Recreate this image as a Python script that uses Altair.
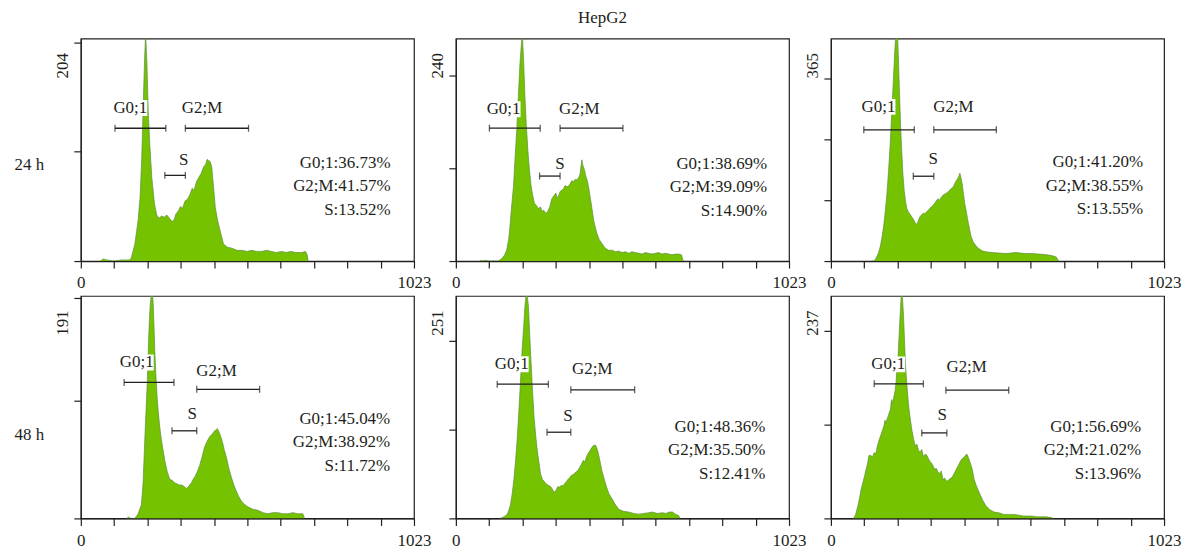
import altair as alt
import pandas as pd

FONT = "Liberation Serif"
INK = "#231f20"
GREEN = "#74c200"
EDGE = "#5f8f3f"

# ---------------- histogram data (channel, count) ----------------
p1_x = [60, 69, 80, 100, 125, 150, 155, 166, 176, 182, 187, 192, 196, 199, 203, 207, 212, 218, 226, 233,
        240, 248, 256, 264, 272, 280, 286, 292, 300, 306, 312, 320, 328, 335, 342, 348, 355, 362, 370, 377,
        383, 388, 392, 397, 402, 408, 413, 420, 428, 438, 450, 464, 480, 495, 510, 525, 540, 556, 570, 585,
        600, 617, 630, 645, 660, 679, 690, 695, 698]
p1_y = [0, 2, 1, 0, 1, 1, 3, 16, 38, 60, 95, 150, 190, 212, 185, 140, 108, 78, 54, 43,
        40, 42, 41, 43, 40, 37, 38, 44, 47, 51, 49, 56, 58, 62, 68, 66, 74, 78, 82, 88,
        90, 95, 94, 93, 88, 68, 50, 38, 28, 16, 13, 12, 10, 10, 9, 10, 9, 9, 10, 9,
        8, 9, 8, 9, 8, 8, 9, 6, 0]

p2_x = [74, 80, 92, 100, 130, 141, 150, 156, 162, 166, 171, 177, 182, 187, 192, 197, 201, 204, 208, 212,
        216, 221, 226, 231, 236, 241, 247, 254, 260, 265, 269, 274, 279, 284, 289, 294, 300, 307, 311, 315,
        320, 326, 331, 336, 341, 346, 351, 356, 361, 367, 372, 377, 381, 385, 387, 390, 395, 399, 403, 408,
        412, 418, 423, 428, 433, 440, 448, 458, 469, 480, 490, 500, 510, 520, 531, 541, 551, 562, 572, 582,
        592, 602, 612, 623, 633, 643, 654, 664, 674, 685, 693, 698]
p2_y = [1, 0, 1, 0, 0, 3, 8, 14, 28, 44, 70, 97, 135, 170, 215, 257, 280, 295, 260, 214,
        178, 144, 118, 97, 85, 75, 72, 68, 70, 64, 66, 63, 62, 66, 71, 80, 84, 88, 82, 84,
        90, 92, 94, 98, 96, 97, 100, 104, 103, 106, 105, 108, 112, 125, 131, 124, 118, 110, 105, 95,
        84, 68, 53, 44, 36, 28, 23, 17, 14, 14, 12, 13, 11, 12, 10, 12, 11, 10, 9, 11,
        10, 9, 10, 11, 9, 10, 9, 8, 9, 9, 8, 0]

p3_x = [125, 132, 137, 142, 147, 152, 157, 162, 167, 172, 177, 182, 187, 192, 196, 200, 205, 208, 211, 214,
        218, 221, 225, 229, 233, 238, 243, 248, 253, 258, 263, 268, 273, 278, 283, 288, 294, 299, 304, 309,
        314, 319, 324, 329, 334, 339, 344, 349, 354, 359, 364, 369, 375, 380, 385, 390, 394, 396, 399, 403,
        407, 411, 416, 420, 425, 430, 437, 446, 456, 466, 481, 496, 516, 537, 552, 567, 582, 598, 618, 638,
        658, 678, 692, 699]
p3_y = [0, 0, 4, 10, 18, 30, 48, 70, 100, 135, 180, 234, 300, 365, 420, 460, 450, 390, 332, 270,
        214, 175, 142, 120, 106, 98, 94, 89, 84, 78, 73, 80, 89, 92, 96, 95, 99, 102, 106, 109,
        112, 116, 121, 125, 122, 128, 132, 134, 136, 138, 142, 145, 148, 155, 161, 166, 172, 176, 168, 155,
        135, 115, 98, 83, 66, 50, 38, 30, 24, 20, 18, 17, 16, 15, 16, 17, 16, 15, 15, 14,
        13, 11, 8, 0]

p4_x = [140, 146, 155, 166, 176, 186, 191, 196, 200, 204, 207, 210, 213, 217, 220, 222, 225, 227, 231, 235,
        240, 245, 251, 258, 265, 273, 280, 288, 295, 302, 309, 316, 324, 329, 334, 340, 345, 350, 357, 365,
        372, 380, 388, 396, 403, 411, 416, 419, 423, 427, 431, 436, 441, 447, 454, 462, 470, 477, 485, 493,
        503, 513, 528, 544, 559, 574, 590, 605, 620, 636, 651, 666, 682, 687]
p4_y = [0, 1, 0, 0, 4, 12, 30, 65, 92, 117, 145, 169, 185, 196, 194, 188, 165, 146, 122, 102,
        86, 73, 62, 50, 41, 34, 33, 31, 30, 29, 29, 28, 26, 27, 29, 31, 34, 36, 40, 46,
        53, 62, 67, 71, 73, 76, 77, 78, 76, 73, 70, 65, 59, 53, 44, 36, 29, 24, 19, 15,
        12, 10, 8, 7, 5, 4, 5, 5, 4, 4, 5, 4, 4, 0]

p5_x = [135, 142, 150, 158, 163, 168, 173, 178, 183, 188, 193, 198, 203, 208, 212, 216, 220, 223, 226, 230,
        235, 240, 245, 250, 255, 260, 266, 272, 277, 283, 288, 293, 298, 303, 308, 313, 318, 324, 329, 334,
        339, 344, 350, 355, 360, 365, 370, 375, 380, 386, 391, 396, 401, 406, 412, 417, 422, 427, 430, 434,
        438, 443, 448, 453, 458, 463, 470, 479, 489, 500, 515, 531, 546, 562, 577, 593, 603, 619, 634, 645,
        655, 665, 675, 684, 688]
p5_y = [0, 1, 3, 6, 12, 20, 35, 54, 80, 110, 148, 190, 235, 270, 300, 318, 312, 300, 268, 229,
        185, 144, 118, 96, 80, 63, 55, 52, 49, 47, 46, 44, 40, 37, 40, 45, 44, 47, 46, 49,
        52, 55, 58, 61, 62, 64, 66, 68, 72, 77, 82, 80, 87, 92, 96, 100, 103, 104, 103, 98,
        91, 80, 68, 60, 52, 44, 35, 28, 20, 13, 10, 9, 7, 6, 7, 8, 9, 7, 8, 7,
        9, 9, 6, 4, 0]

p6_x = [70, 76, 83, 88, 93, 98, 103, 108, 113, 116, 118, 123, 128, 133, 138, 143, 148, 153, 158, 163,
        166, 168, 173, 178, 183, 186, 188, 193, 197, 200, 203, 206, 209, 212, 215, 217, 220, 223, 226, 229,
        231, 235, 239, 244, 249, 254, 259, 264, 269, 274, 279, 284, 289, 294, 299, 304, 309, 314, 319, 324,
        329, 334, 339, 344, 349, 355, 360, 365, 370, 375, 380, 385, 390, 395, 400, 405, 410, 414, 418, 423,
        428, 434, 440, 446, 456, 466, 476, 488, 501, 516, 531, 546, 562, 577, 592, 602, 617, 632, 647, 662,
        677, 684]
p6_y = [0, 5, 16, 26, 37, 45, 53, 62, 70, 78, 80, 79, 78, 83, 82, 92, 99, 105, 111, 117,
        124, 120, 126, 132, 138, 150, 145, 153, 161, 172, 190, 203, 228, 253, 275, 290, 278, 256, 225, 195,
        182, 160, 141, 125, 111, 100, 91, 94, 86, 84, 87, 78, 81, 80, 76, 72, 70, 66, 62, 63,
        58, 57, 60, 49, 51, 47, 48, 50, 51, 54, 58, 62, 66, 70, 74, 76, 78, 80, 81, 76,
        70, 62, 49, 42, 32, 23, 16, 11, 8, 7, 5, 5, 5, 4, 3, 3, 3, 2, 2, 2,
        1, 0]

hist_x = [p1_x, p2_x, p3_x, p4_x, p5_x, p6_x]
hist_y = [p1_y, p2_y, p3_y, p4_y, p5_y, p6_y]

# ---------------- axis labels / percentages / gates ----------------
row_labels = ["24 h", "48 h"]
y_top_label = [204, 240, 365, 191, 251, 237]
y_tick_values = [[0, 102, 204], [0, 120, 240], [0, 121.67, 243.33, 365],
                 [0, 102, 191], [0, 125.5, 251], [0, 118.5, 237]]
x_tick_values = [0, 102.3, 204.6, 306.9, 409.2, 511.5, 613.8, 716.1, 818.4, 920.7, 1023]

pct_g01 = ["36.73", "38.69", "41.20", "45.04", "48.36", "56.69"]
pct_g2m = ["41.57", "39.09", "38.55", "38.92", "35.50", "21.02"]
pct_s = ["13.52", "14.90", "13.55", "11.72", "12.41", "13.96"]

gate_g01 = [(105, 261), (103, 259), (101, 256), (133, 286), (127, 284), (133, 284)]
gate_s = [(258, 321), (257, 320), (253, 316), (280, 356), (280, 353), (279, 356)]
gate_g2m = [(321, 515), (320, 513), (316, 508), (356, 549), (353, 549), (353, 546)]

# ---------------- layout (scale domains, annotation anchors) ----------------
y_domain_max = [207.7, 287.9, 445.8, 193.0, 314.9, 281.0]
bar_y = [(124, 80, 124), (172, 110, 172), (263, 170, 263),
         (118, 76, 112), (190, 122, 182), (170, 108, 162)]          # g01, s, g2m
lab_g01 = [(100, 143), (94.5, 196.6), (94, 309), (119.6, 135.3), (119.4, 218.3), (124, 194.6)]
lab_s = [(316, 94.5), (320, 125.7), (314, 204), (342.4, 90.2), (344.2, 144.5), (341.7, 130.1)]
lab_g2m = [(310, 143), (317, 196.6), (314, 309), (354.7, 128), (356.7, 211.2), (354.7, 191.2)]
stat_pos = [(951, 91.7), (956, 125.7), (959, 197.6), (950, 86.5), (950.6, 129.3), (952.5, 115.5)]
row_title_y = [126, 139]

W, H = 334, 223
FS = 17


def panel(i):
    top = y_domain_max[i]
    xs = alt.Scale(domain=[0, 1023], nice=False, zero=False)
    ys = alt.Scale(domain=[0, top], nice=False, zero=True)
    xaxis = alt.Axis(
        values=x_tick_values, title=None, grid=False,
        labelExpr="datum.value == 0 ? '0' : (datum.value == 1023 ? '1023' : '')",
        labelFlush=False, labelOverlap=False, tickSize=7, labelPadding=7,
    )
    yaxis_kw = dict(
        values=y_tick_values[i] + [top], grid=False,
        labelExpr=f"datum.value == {top} ? '{y_top_label[i]}' : ''",
        tickOpacity={"condition": {"test": f"datum.value == {top}", "value": 0}, "value": 1},
        labelAngle=-90, labelAlign="right", labelBaseline="alphabetic",
        labelOffset=14, labelPadding=6, tickSize=7, labelOverlap=False, labelFlush=False,
    )
    if i % 3 == 0:
        yaxis = alt.Axis(title=row_labels[i // 3], titleAngle=0, titleAlign="left",
                         titleBaseline="middle", titleX=-67, titleY=row_title_y[i // 3],
                         titleFont=FONT, titleFontSize=FS, titleFontWeight="normal",
                         titleColor=INK, **yaxis_kw)
    else:
        yaxis = alt.Axis(title=None, **yaxis_kw)

    def X(f="x"):
        return alt.X(f"{f}:Q", scale=xs, axis=xaxis)

    def Y(f="y"):
        return alt.Y(f"{f}:Q", scale=ys, axis=yaxis)

    hist = pd.DataFrame({"x": hist_x[i], "y": hist_y[i]})
    area = alt.Chart(hist).mark_area(
        color=GREEN, line={"color": EDGE, "strokeWidth": 0.7}, clip=True, opacity=1
    ).encode(x=X(), y=Y())

    gates = [gate_g01[i], gate_s[i], gate_g2m[i]]
    bars = pd.DataFrame({
        "x": [g[0] for g in gates], "x2": [g[1] for g in gates], "y": list(bar_y[i])
    })
    caps = pd.DataFrame({
        "x": [g[k] for g in gates for k in (0, 1)],
        "y": [bar_y[i][j] for j in range(3) for k in (0, 1)],
    })
    rules = alt.Chart(bars).mark_rule(color=INK, strokeWidth=1.3).encode(
        x=X(), x2="x2:Q", y=Y())
    ticks = alt.Chart(caps).mark_tick(orient="vertical", size=7, thickness=1.3, color=INK).encode(
        x=X(), y=Y())

    g01 = pd.DataFrame({"x": [lab_g01[i][0]], "y": [lab_g01[i][1]], "t": ["G0;1"]})
    box = alt.Chart(g01).mark_rect(color="white", xOffset=-1, x2Offset=34, yOffset=-8, y2Offset=8).encode(
        x=X(), x2="x:Q", y=Y(), y2="y:Q")
    txt_kw = dict(font=FONT, fontSize=FS, color=INK, baseline="middle")
    t_g01 = alt.Chart(g01).mark_text(align="left", **txt_kw).encode(x=X(), y=Y(), text="t:N")
    g2m = pd.DataFrame({"x": [lab_g2m[i][0]], "y": [lab_g2m[i][1]], "t": ["G2;M"]})
    t_g2m = alt.Chart(g2m).mark_text(align="left", **txt_kw).encode(x=X(), y=Y(), text="t:N")
    s = pd.DataFrame({"x": [lab_s[i][0]], "y": [lab_s[i][1]], "t": ["S"]})
    t_s = alt.Chart(s).mark_text(align="center", **txt_kw).encode(x=X(), y=Y(), text="t:N")

    stat_text = f"G0;1:{pct_g01[i]}%\nG2;M:{pct_g2m[i]}%\nS:{pct_s[i]}%"
    st = pd.DataFrame({"x": [stat_pos[i][0]], "y": [stat_pos[i][1]], "t": [stat_text]})
    t_st = alt.Chart(st).mark_text(align="right", lineBreak="\n", lineHeight=23.5, **txt_kw).encode(
        x=X(), y=Y(), text="t:N")

    return alt.layer(area, box, rules, ticks, t_g01, t_g2m, t_s, t_st).properties(width=W, height=H)


chart = alt.concat(
    *[panel(i) for i in range(6)],
    columns=3,
    spacing={"row": 35, "column": 42},
    bounds="flush",
    title=alt.TitleParams(text="HepG2", font=FONT, fontSize=17, fontWeight="normal",
                          color=INK, anchor="middle", offset=11, dx=5),
).properties(
    padding={"left": 5, "top": 0, "right": 5, "bottom": 5}
).configure_view(
    stroke=INK, strokeWidth=1.2
).configure_axis(
    domainColor=INK, domainWidth=1.2, tickColor=INK, tickWidth=1.2,
    labelFont=FONT, labelFontSize=FS, labelColor=INK,
)

chart.save("out.html", embed_options={"renderer": "svg", "actions": False})
